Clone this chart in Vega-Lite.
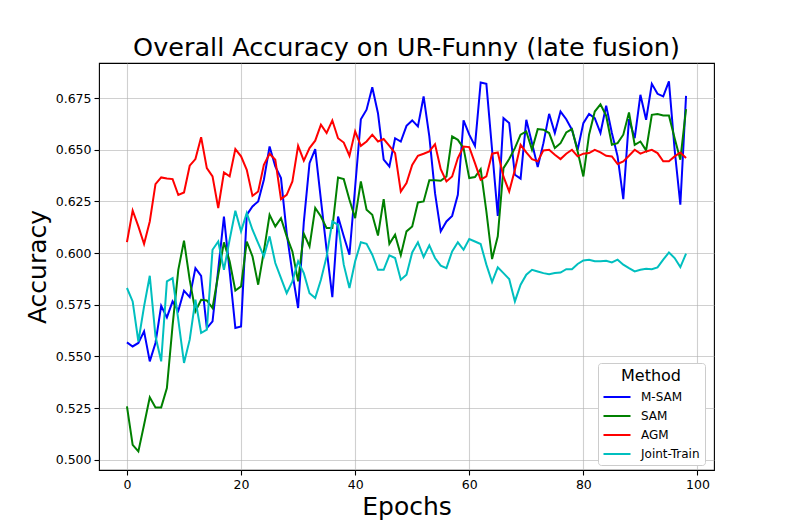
{
  "$schema": "https://vega.github.io/schema/vega-lite/v6.json",
  "width": 615,
  "height": 407,
  "autosize": {"type": "none"},
  "padding": {"left": 99, "top": 63, "right": 79, "bottom": 59},
  "background": "white",
  "title": {"text": "Overall Accuracy on UR-Funny (late fusion)", "fontSize": 25.5, "fontWeight": "normal", "font": "DejaVu Sans", "color": "black", "offset": 2, "anchor": "middle"},
  "config": {
    "font": "DejaVu Sans",
    "view": {"stroke": "black", "strokeWidth": 1.1},
    "axis": {
      "domain": false,
      "grid": true,
      "gridColor": "#b0b0b0",
      "gridOpacity": 0.6,
      "gridWidth": 1.1,
      "tickColor": "black",
      "tickSize": 5,
      "tickWidth": 1.1,
      "labelFontSize": 12.5,
      "labelColor": "black",
      "labelPadding": 3,
      "titleFontSize": 25,
      "titleFontWeight": "normal",
      "titleColor": "black"
    }
  },
  "data": {"values": [
{"epoch":0,"method":"M-SAM","accuracy":0.5568},{"epoch":1,"method":"M-SAM","accuracy":0.5548},{"epoch":2,"method":"M-SAM","accuracy":0.5565},{"epoch":3,"method":"M-SAM","accuracy":0.5621},{"epoch":4,"method":"M-SAM","accuracy":0.5476},{"epoch":5,"method":"M-SAM","accuracy":0.5565},{"epoch":6,"method":"M-SAM","accuracy":0.5745},{"epoch":7,"method":"M-SAM","accuracy":0.5689},{"epoch":8,"method":"M-SAM","accuracy":0.5766},{"epoch":9,"method":"M-SAM","accuracy":0.5721},
{"epoch":10,"method":"M-SAM","accuracy":0.5818},{"epoch":11,"method":"M-SAM","accuracy":0.5787},{"epoch":12,"method":"M-SAM","accuracy":0.5927},{"epoch":13,"method":"M-SAM","accuracy":0.5890},{"epoch":14,"method":"M-SAM","accuracy":0.5637},{"epoch":15,"method":"M-SAM","accuracy":0.5669},{"epoch":16,"method":"M-SAM","accuracy":0.592},{"epoch":17,"method":"M-SAM","accuracy":0.6177},{"epoch":18,"method":"M-SAM","accuracy":0.5911},{"epoch":19,"method":"M-SAM","accuracy":0.5637},
{"epoch":20,"method":"M-SAM","accuracy":0.5645},{"epoch":21,"method":"M-SAM","accuracy":0.6185},{"epoch":22,"method":"M-SAM","accuracy":0.6226},{"epoch":23,"method":"M-SAM","accuracy":0.6250},{"epoch":24,"method":"M-SAM","accuracy":0.6355},{"epoch":25,"method":"M-SAM","accuracy":0.6516},{"epoch":26,"method":"M-SAM","accuracy":0.6419},{"epoch":27,"method":"M-SAM","accuracy":0.6363},{"epoch":28,"method":"M-SAM","accuracy":0.6097},{"epoch":29,"method":"M-SAM","accuracy":0.5903},
{"epoch":30,"method":"M-SAM","accuracy":0.5734},{"epoch":31,"method":"M-SAM","accuracy":0.615},{"epoch":32,"method":"M-SAM","accuracy":0.6435},{"epoch":33,"method":"M-SAM","accuracy":0.6503},{"epoch":34,"method":"M-SAM","accuracy":0.6258},{"epoch":35,"method":"M-SAM","accuracy":0.6016},{"epoch":36,"method":"M-SAM","accuracy":0.5787},{"epoch":37,"method":"M-SAM","accuracy":0.6177},{"epoch":38,"method":"M-SAM","accuracy":0.6081},{"epoch":39,"method":"M-SAM","accuracy":0.5992},
{"epoch":40,"method":"M-SAM","accuracy":0.632},{"epoch":41,"method":"M-SAM","accuracy":0.6648},{"epoch":42,"method":"M-SAM","accuracy":0.6694},{"epoch":43,"method":"M-SAM","accuracy":0.6803},{"epoch":44,"method":"M-SAM","accuracy":0.6677},{"epoch":45,"method":"M-SAM","accuracy":0.6452},{"epoch":46,"method":"M-SAM","accuracy":0.6419},{"epoch":47,"method":"M-SAM","accuracy":0.6556},{"epoch":48,"method":"M-SAM","accuracy":0.6540},{"epoch":49,"method":"M-SAM","accuracy":0.6616},
{"epoch":50,"method":"M-SAM","accuracy":0.6642},{"epoch":51,"method":"M-SAM","accuracy":0.6613},{"epoch":52,"method":"M-SAM","accuracy":0.6758},{"epoch":53,"method":"M-SAM","accuracy":0.6565},{"epoch":54,"method":"M-SAM","accuracy":0.6290},{"epoch":55,"method":"M-SAM","accuracy":0.6105},{"epoch":56,"method":"M-SAM","accuracy":0.6153},{"epoch":57,"method":"M-SAM","accuracy":0.6180},{"epoch":58,"method":"M-SAM","accuracy":0.6282},{"epoch":59,"method":"M-SAM","accuracy":0.6642},
{"epoch":60,"method":"M-SAM","accuracy":0.6573},{"epoch":61,"method":"M-SAM","accuracy":0.6519},{"epoch":62,"method":"M-SAM","accuracy":0.6826},{"epoch":63,"method":"M-SAM","accuracy":0.6819},{"epoch":64,"method":"M-SAM","accuracy":0.650},{"epoch":65,"method":"M-SAM","accuracy":0.6180},{"epoch":66,"method":"M-SAM","accuracy":0.6653},{"epoch":67,"method":"M-SAM","accuracy":0.6629},{"epoch":68,"method":"M-SAM","accuracy":0.6379},{"epoch":69,"method":"M-SAM","accuracy":0.6360},
{"epoch":70,"method":"M-SAM","accuracy":0.6645},{"epoch":71,"method":"M-SAM","accuracy":0.6532},{"epoch":72,"method":"M-SAM","accuracy":0.6416},{"epoch":73,"method":"M-SAM","accuracy":0.6532},{"epoch":74,"method":"M-SAM","accuracy":0.6674},{"epoch":75,"method":"M-SAM","accuracy":0.6581},{"epoch":76,"method":"M-SAM","accuracy":0.6685},{"epoch":77,"method":"M-SAM","accuracy":0.6648},{"epoch":78,"method":"M-SAM","accuracy":0.6597},{"epoch":79,"method":"M-SAM","accuracy":0.6500},
{"epoch":80,"method":"M-SAM","accuracy":0.6629},{"epoch":81,"method":"M-SAM","accuracy":0.6673},{"epoch":82,"method":"M-SAM","accuracy":0.6653},{"epoch":83,"method":"M-SAM","accuracy":0.6581},{"epoch":84,"method":"M-SAM","accuracy":0.6713},{"epoch":85,"method":"M-SAM","accuracy":0.6581},{"epoch":86,"method":"M-SAM","accuracy":0.6468},{"epoch":87,"method":"M-SAM","accuracy":0.6261},{"epoch":88,"method":"M-SAM","accuracy":0.6648},{"epoch":89,"method":"M-SAM","accuracy":0.6556},
{"epoch":90,"method":"M-SAM","accuracy":0.6766},{"epoch":91,"method":"M-SAM","accuracy":0.6645},{"epoch":92,"method":"M-SAM","accuracy":0.6819},{"epoch":93,"method":"M-SAM","accuracy":0.6771},{"epoch":94,"method":"M-SAM","accuracy":0.6758},{"epoch":95,"method":"M-SAM","accuracy":0.6831},{"epoch":96,"method":"M-SAM","accuracy":0.6500},{"epoch":97,"method":"M-SAM","accuracy":0.6234},{"epoch":98,"method":"M-SAM","accuracy":0.6761},
{"epoch":0,"method":"SAM","accuracy":0.5258},{"epoch":1,"method":"SAM","accuracy":0.5072},{"epoch":2,"method":"SAM","accuracy":0.5040},{"epoch":3,"method":"SAM","accuracy":0.5169},{"epoch":4,"method":"SAM","accuracy":0.5302},{"epoch":5,"method":"SAM","accuracy":0.5253},{"epoch":6,"method":"SAM","accuracy":0.5253},{"epoch":7,"method":"SAM","accuracy":0.5347},{"epoch":8,"method":"SAM","accuracy":0.565},{"epoch":9,"method":"SAM","accuracy":0.5919},
{"epoch":10,"method":"SAM","accuracy":0.6060},{"epoch":11,"method":"SAM","accuracy":0.587},{"epoch":12,"method":"SAM","accuracy":0.5718},{"epoch":13,"method":"SAM","accuracy":0.5774},{"epoch":14,"method":"SAM","accuracy":0.5771},{"epoch":15,"method":"SAM","accuracy":0.5734},{"epoch":16,"method":"SAM","accuracy":0.5895},{"epoch":17,"method":"SAM","accuracy":0.6052},{"epoch":18,"method":"SAM","accuracy":0.5960},{"epoch":19,"method":"SAM","accuracy":0.5819},
{"epoch":20,"method":"SAM","accuracy":0.5839},{"epoch":21,"method":"SAM","accuracy":0.6056},{"epoch":22,"method":"SAM","accuracy":0.5984},{"epoch":23,"method":"SAM","accuracy":0.5847},{"epoch":24,"method":"SAM","accuracy":0.6008},{"epoch":25,"method":"SAM","accuracy":0.6185},{"epoch":26,"method":"SAM","accuracy":0.6129},{"epoch":27,"method":"SAM","accuracy":0.6169},{"epoch":28,"method":"SAM","accuracy":0.6081},{"epoch":29,"method":"SAM","accuracy":0.6008},
{"epoch":30,"method":"SAM","accuracy":0.5863},{"epoch":31,"method":"SAM","accuracy":0.6094},{"epoch":32,"method":"SAM","accuracy":0.6032},{"epoch":33,"method":"SAM","accuracy":0.6218},{"epoch":34,"method":"SAM","accuracy":0.6177},{"epoch":35,"method":"SAM","accuracy":0.6121},{"epoch":36,"method":"SAM","accuracy":0.6121},{"epoch":37,"method":"SAM","accuracy":0.6366},{"epoch":38,"method":"SAM","accuracy":0.6358},{"epoch":39,"method":"SAM","accuracy":0.6258},
{"epoch":40,"method":"SAM","accuracy":0.6169},{"epoch":41,"method":"SAM","accuracy":0.6347},{"epoch":42,"method":"SAM","accuracy":0.6210},{"epoch":43,"method":"SAM","accuracy":0.6185},{"epoch":44,"method":"SAM","accuracy":0.6085},{"epoch":45,"method":"SAM","accuracy":0.6261},{"epoch":46,"method":"SAM","accuracy":0.6045},{"epoch":47,"method":"SAM","accuracy":0.6089},{"epoch":48,"method":"SAM","accuracy":0.5990},{"epoch":49,"method":"SAM","accuracy":0.6105},
{"epoch":50,"method":"SAM","accuracy":0.6129},{"epoch":51,"method":"SAM","accuracy":0.6245},{"epoch":52,"method":"SAM","accuracy":0.6250},{"epoch":53,"method":"SAM","accuracy":0.6352},{"epoch":54,"method":"SAM","accuracy":0.6352},{"epoch":55,"method":"SAM","accuracy":0.6350},{"epoch":56,"method":"SAM","accuracy":0.6371},{"epoch":57,"method":"SAM","accuracy":0.6565},{"epoch":58,"method":"SAM","accuracy":0.6548},{"epoch":59,"method":"SAM","accuracy":0.6508},
{"epoch":60,"method":"SAM","accuracy":0.6363},{"epoch":61,"method":"SAM","accuracy":0.6368},{"epoch":62,"method":"SAM","accuracy":0.6406},{"epoch":63,"method":"SAM","accuracy":0.6202},{"epoch":64,"method":"SAM","accuracy":0.5971},{"epoch":65,"method":"SAM","accuracy":0.6081},{"epoch":66,"method":"SAM","accuracy":0.6411},{"epoch":67,"method":"SAM","accuracy":0.6455},{"epoch":68,"method":"SAM","accuracy":0.6508},{"epoch":69,"method":"SAM","accuracy":0.6573},
{"epoch":70,"method":"SAM","accuracy":0.6589},{"epoch":71,"method":"SAM","accuracy":0.6500},{"epoch":72,"method":"SAM","accuracy":0.6600},{"epoch":73,"method":"SAM","accuracy":0.6597},{"epoch":74,"method":"SAM","accuracy":0.6581},{"epoch":75,"method":"SAM","accuracy":0.6508},{"epoch":76,"method":"SAM","accuracy":0.6532},{"epoch":77,"method":"SAM","accuracy":0.6584},{"epoch":78,"method":"SAM","accuracy":0.6600},{"epoch":79,"method":"SAM","accuracy":0.6492},
{"epoch":80,"method":"SAM","accuracy":0.6371},{"epoch":81,"method":"SAM","accuracy":0.6573},{"epoch":82,"method":"SAM","accuracy":0.6685},{"epoch":83,"method":"SAM","accuracy":0.6720},{"epoch":84,"method":"SAM","accuracy":0.6665},{"epoch":85,"method":"SAM","accuracy":0.6524},{"epoch":86,"method":"SAM","accuracy":0.6532},{"epoch":87,"method":"SAM","accuracy":0.6573},{"epoch":88,"method":"SAM","accuracy":0.6681},{"epoch":89,"method":"SAM","accuracy":0.6524},
{"epoch":90,"method":"SAM","accuracy":0.6540},{"epoch":91,"method":"SAM","accuracy":0.6497},{"epoch":92,"method":"SAM","accuracy":0.6669},{"epoch":93,"method":"SAM","accuracy":0.6673},{"epoch":94,"method":"SAM","accuracy":0.6666},{"epoch":95,"method":"SAM","accuracy":0.6666},{"epoch":96,"method":"SAM","accuracy":0.6556},{"epoch":97,"method":"SAM","accuracy":0.6452},{"epoch":98,"method":"SAM","accuracy":0.6697},
{"epoch":0,"method":"AGM","accuracy":0.6053},{"epoch":1,"method":"AGM","accuracy":0.6206},{"epoch":2,"method":"AGM","accuracy":0.6129},{"epoch":3,"method":"AGM","accuracy":0.6044},{"epoch":4,"method":"AGM","accuracy":0.6153},{"epoch":5,"method":"AGM","accuracy":0.6334},{"epoch":6,"method":"AGM","accuracy":0.6366},{"epoch":7,"method":"AGM","accuracy":0.6361},{"epoch":8,"method":"AGM","accuracy":0.6358},{"epoch":9,"method":"AGM","accuracy":0.6281},
{"epoch":10,"method":"AGM","accuracy":0.6293},{"epoch":11,"method":"AGM","accuracy":0.6423},{"epoch":12,"method":"AGM","accuracy":0.6455},{"epoch":13,"method":"AGM","accuracy":0.6561},{"epoch":14,"method":"AGM","accuracy":0.6411},{"epoch":15,"method":"AGM","accuracy":0.6371},{"epoch":16,"method":"AGM","accuracy":0.6218},{"epoch":17,"method":"AGM","accuracy":0.6390},{"epoch":18,"method":"AGM","accuracy":0.6371},{"epoch":19,"method":"AGM","accuracy":0.6503},
{"epoch":20,"method":"AGM","accuracy":0.6468},{"epoch":21,"method":"AGM","accuracy":0.6403},{"epoch":22,"method":"AGM","accuracy":0.6277},{"epoch":23,"method":"AGM","accuracy":0.6298},{"epoch":24,"method":"AGM","accuracy":0.6427},{"epoch":25,"method":"AGM","accuracy":0.6481},{"epoch":26,"method":"AGM","accuracy":0.6452},{"epoch":27,"method":"AGM","accuracy":0.6261},{"epoch":28,"method":"AGM","accuracy":0.6282},{"epoch":29,"method":"AGM","accuracy":0.6347},
{"epoch":30,"method":"AGM","accuracy":0.6519},{"epoch":31,"method":"AGM","accuracy":0.6447},{"epoch":32,"method":"AGM","accuracy":0.6508},{"epoch":33,"method":"AGM","accuracy":0.6544},{"epoch":34,"method":"AGM","accuracy":0.6621},{"epoch":35,"method":"AGM","accuracy":0.6581},{"epoch":36,"method":"AGM","accuracy":0.6642},{"epoch":37,"method":"AGM","accuracy":0.6556},{"epoch":38,"method":"AGM","accuracy":0.6535},{"epoch":39,"method":"AGM","accuracy":0.6471},
{"epoch":40,"method":"AGM","accuracy":0.6589},{"epoch":41,"method":"AGM","accuracy":0.6519},{"epoch":42,"method":"AGM","accuracy":0.6540},{"epoch":43,"method":"AGM","accuracy":0.6573},{"epoch":44,"method":"AGM","accuracy":0.6540},{"epoch":45,"method":"AGM","accuracy":0.6552},{"epoch":46,"method":"AGM","accuracy":0.6519},{"epoch":47,"method":"AGM","accuracy":0.6484},{"epoch":48,"method":"AGM","accuracy":0.6298},{"epoch":49,"method":"AGM","accuracy":0.6339},
{"epoch":50,"method":"AGM","accuracy":0.6427},{"epoch":51,"method":"AGM","accuracy":0.6471},{"epoch":52,"method":"AGM","accuracy":0.6481},{"epoch":53,"method":"AGM","accuracy":0.6492},{"epoch":54,"method":"AGM","accuracy":0.6527},{"epoch":55,"method":"AGM","accuracy":0.6406},{"epoch":56,"method":"AGM","accuracy":0.6347},{"epoch":57,"method":"AGM","accuracy":0.6371},{"epoch":58,"method":"AGM","accuracy":0.6460},{"epoch":59,"method":"AGM","accuracy":0.6516},
{"epoch":60,"method":"AGM","accuracy":0.6513},{"epoch":61,"method":"AGM","accuracy":0.6435},{"epoch":62,"method":"AGM","accuracy":0.6355},{"epoch":63,"method":"AGM","accuracy":0.6371},{"epoch":64,"method":"AGM","accuracy":0.6481},{"epoch":65,"method":"AGM","accuracy":0.6487},{"epoch":66,"method":"AGM","accuracy":0.6370},{"epoch":67,"method":"AGM","accuracy":0.6298},{"epoch":68,"method":"AGM","accuracy":0.6403},{"epoch":69,"method":"AGM","accuracy":0.6524},
{"epoch":70,"method":"AGM","accuracy":0.6487},{"epoch":71,"method":"AGM","accuracy":0.6455},{"epoch":72,"method":"AGM","accuracy":0.6444},{"epoch":73,"method":"AGM","accuracy":0.6497},{"epoch":74,"method":"AGM","accuracy":0.6500},{"epoch":75,"method":"AGM","accuracy":0.6476},{"epoch":76,"method":"AGM","accuracy":0.6455},{"epoch":77,"method":"AGM","accuracy":0.6481},{"epoch":78,"method":"AGM","accuracy":0.6500},{"epoch":79,"method":"AGM","accuracy":0.6468},
{"epoch":80,"method":"AGM","accuracy":0.6481},{"epoch":81,"method":"AGM","accuracy":0.6484},{"epoch":82,"method":"AGM","accuracy":0.6500},{"epoch":83,"method":"AGM","accuracy":0.6487},{"epoch":84,"method":"AGM","accuracy":0.6471},{"epoch":85,"method":"AGM","accuracy":0.6468},{"epoch":86,"method":"AGM","accuracy":0.6431},{"epoch":87,"method":"AGM","accuracy":0.6444},{"epoch":88,"method":"AGM","accuracy":0.6471},{"epoch":89,"method":"AGM","accuracy":0.6500},
{"epoch":90,"method":"AGM","accuracy":0.6481},{"epoch":91,"method":"AGM","accuracy":0.6492},{"epoch":92,"method":"AGM","accuracy":0.6500},{"epoch":93,"method":"AGM","accuracy":0.6484},{"epoch":94,"method":"AGM","accuracy":0.6444},{"epoch":95,"method":"AGM","accuracy":0.6444},{"epoch":96,"method":"AGM","accuracy":0.6468},{"epoch":97,"method":"AGM","accuracy":0.6487},{"epoch":98,"method":"AGM","accuracy":0.6460},
{"epoch":0,"method":"Joint-Train","accuracy":0.5831},{"epoch":1,"method":"Joint-Train","accuracy":0.5766},{"epoch":2,"method":"Joint-Train","accuracy":0.5572},{"epoch":3,"method":"Joint-Train","accuracy":0.5742},{"epoch":4,"method":"Joint-Train","accuracy":0.5890},{"epoch":5,"method":"Joint-Train","accuracy":0.5597},{"epoch":6,"method":"Joint-Train","accuracy":0.5476},{"epoch":7,"method":"Joint-Train","accuracy":0.5863},{"epoch":8,"method":"Joint-Train","accuracy":0.5879},{"epoch":9,"method":"Joint-Train","accuracy":0.5677},
{"epoch":10,"method":"Joint-Train","accuracy":0.5468},{"epoch":11,"method":"Joint-Train","accuracy":0.5581},{"epoch":12,"method":"Joint-Train","accuracy":0.5774},{"epoch":13,"method":"Joint-Train","accuracy":0.5613},{"epoch":14,"method":"Joint-Train","accuracy":0.5629},{"epoch":15,"method":"Joint-Train","accuracy":0.6016},{"epoch":16,"method":"Joint-Train","accuracy":0.6056},{"epoch":17,"method":"Joint-Train","accuracy":0.5919},{"epoch":18,"method":"Joint-Train","accuracy":0.6065},{"epoch":19,"method":"Joint-Train","accuracy":0.6205},
{"epoch":20,"method":"Joint-Train","accuracy":0.6105},{"epoch":21,"method":"Joint-Train","accuracy":0.6194},{"epoch":22,"method":"Joint-Train","accuracy":0.6113},{"epoch":23,"method":"Joint-Train","accuracy":0.6048},{"epoch":24,"method":"Joint-Train","accuracy":0.5984},{"epoch":25,"method":"Joint-Train","accuracy":0.6081},{"epoch":26,"method":"Joint-Train","accuracy":0.5952},{"epoch":27,"method":"Joint-Train","accuracy":0.5879},{"epoch":28,"method":"Joint-Train","accuracy":0.5806},{"epoch":29,"method":"Joint-Train","accuracy":0.5863},
{"epoch":30,"method":"Joint-Train","accuracy":0.5960},{"epoch":31,"method":"Joint-Train","accuracy":0.5903},{"epoch":32,"method":"Joint-Train","accuracy":0.5806},{"epoch":33,"method":"Joint-Train","accuracy":0.5782},{"epoch":34,"method":"Joint-Train","accuracy":0.5871},{"epoch":35,"method":"Joint-Train","accuracy":0.5984},{"epoch":36,"method":"Joint-Train","accuracy":0.6153},{"epoch":37,"method":"Joint-Train","accuracy":0.6137},{"epoch":38,"method":"Joint-Train","accuracy":0.5944},{"epoch":39,"method":"Joint-Train","accuracy":0.5831},
{"epoch":40,"method":"Joint-Train","accuracy":0.5960},{"epoch":41,"method":"Joint-Train","accuracy":0.6052},{"epoch":42,"method":"Joint-Train","accuracy":0.6045},{"epoch":43,"method":"Joint-Train","accuracy":0.5992},{"epoch":44,"method":"Joint-Train","accuracy":0.5919},{"epoch":45,"method":"Joint-Train","accuracy":0.5919},{"epoch":46,"method":"Joint-Train","accuracy":0.5989},{"epoch":47,"method":"Joint-Train","accuracy":0.5976},{"epoch":48,"method":"Joint-Train","accuracy":0.5871},{"epoch":49,"method":"Joint-Train","accuracy":0.5895},
{"epoch":50,"method":"Joint-Train","accuracy":0.6003},{"epoch":51,"method":"Joint-Train","accuracy":0.6052},{"epoch":52,"method":"Joint-Train","accuracy":0.5981},{"epoch":53,"method":"Joint-Train","accuracy":0.6037},{"epoch":54,"method":"Joint-Train","accuracy":0.5976},{"epoch":55,"method":"Joint-Train","accuracy":0.5939},{"epoch":56,"method":"Joint-Train","accuracy":0.5927},{"epoch":57,"method":"Joint-Train","accuracy":0.6008},{"epoch":58,"method":"Joint-Train","accuracy":0.6052},{"epoch":59,"method":"Joint-Train","accuracy":0.6016},
{"epoch":60,"method":"Joint-Train","accuracy":0.6068},{"epoch":61,"method":"Joint-Train","accuracy":0.6056},{"epoch":62,"method":"Joint-Train","accuracy":0.6044},{"epoch":63,"method":"Joint-Train","accuracy":0.5944},{"epoch":64,"method":"Joint-Train","accuracy":0.5860},{"epoch":65,"method":"Joint-Train","accuracy":0.5931},{"epoch":66,"method":"Joint-Train","accuracy":0.5903},{"epoch":67,"method":"Joint-Train","accuracy":0.5874},{"epoch":68,"method":"Joint-Train","accuracy":0.5766},{"epoch":69,"method":"Joint-Train","accuracy":0.5847},
{"epoch":70,"method":"Joint-Train","accuracy":0.5895},{"epoch":71,"method":"Joint-Train","accuracy":0.5919},{"epoch":72,"method":"Joint-Train","accuracy":0.5911},{"epoch":73,"method":"Joint-Train","accuracy":0.5903},{"epoch":74,"method":"Joint-Train","accuracy":0.5898},{"epoch":75,"method":"Joint-Train","accuracy":0.5903},{"epoch":76,"method":"Joint-Train","accuracy":0.5906},{"epoch":77,"method":"Joint-Train","accuracy":0.5922},{"epoch":78,"method":"Joint-Train","accuracy":0.5922},{"epoch":79,"method":"Joint-Train","accuracy":0.5947},
{"epoch":80,"method":"Joint-Train","accuracy":0.5964},{"epoch":81,"method":"Joint-Train","accuracy":0.5968},{"epoch":82,"method":"Joint-Train","accuracy":0.5960},{"epoch":83,"method":"Joint-Train","accuracy":0.5960},{"epoch":84,"method":"Joint-Train","accuracy":0.5963},{"epoch":85,"method":"Joint-Train","accuracy":0.5955},{"epoch":86,"method":"Joint-Train","accuracy":0.5968},{"epoch":87,"method":"Joint-Train","accuracy":0.5944},{"epoch":88,"method":"Joint-Train","accuracy":0.5927},{"epoch":89,"method":"Joint-Train","accuracy":0.5911},
{"epoch":90,"method":"Joint-Train","accuracy":0.5919},{"epoch":91,"method":"Joint-Train","accuracy":0.5924},{"epoch":92,"method":"Joint-Train","accuracy":0.5922},{"epoch":93,"method":"Joint-Train","accuracy":0.5931},{"epoch":94,"method":"Joint-Train","accuracy":0.5968},{"epoch":95,"method":"Joint-Train","accuracy":0.6003},{"epoch":96,"method":"Joint-Train","accuracy":0.5976},{"epoch":97,"method":"Joint-Train","accuracy":0.5932},{"epoch":98,"method":"Joint-Train","accuracy":0.5997}
  ]},
  "mark": {"type": "line", "strokeWidth": 2, "clip": true},
  "encoding": {
    "x": {
      "field": "epoch", "type": "quantitative",
      "scale": {"domain": [-4.9, 102.9], "nice": false, "zero": false},
      "axis": {"values": [0, 20, 40, 60, 80, 100], "title": "Epochs", "titlePadding": 4, "format": "d"}
    },
    "y": {
      "field": "accuracy", "type": "quantitative",
      "scale": {"domain": [0.495, 0.692], "nice": false, "zero": false},
      "axis": {"values": [0.5, 0.525, 0.55, 0.575, 0.6, 0.625, 0.65, 0.675], "format": ".3f", "title": "Accuracy", "titlePadding": 5}
    },
    "color": {
      "field": "method", "type": "nominal",
      "scale": {"domain": ["M-SAM", "SAM", "AGM", "Joint-Train"], "range": ["#0000ff", "#008000", "#ff0000", "#00bfbf"]},
      "legend": {
        "title": "Method",
        "orient": "none",
        "legendX": 499,
        "legendY": 300,
        "symbolType": "M-1.93,0H1.93",
        "symbolSize": 196,
        "symbolStrokeWidth": 2,
        "symbolOffset": 6,
        "labelFontSize": 12,
        "labelColor": "black",
        "labelOffset": 16,
        "titleFontSize": 16,
        "titleFontWeight": "normal",
        "titleColor": "black",
        "titleAnchor": "middle",
        "titlePadding": 5,
        "padding": 5,
        "rowPadding": 5,
        "fillColor": "white",
        "strokeColor": "#cccccc",
        "cornerRadius": 3
      }
    }
  }
}
